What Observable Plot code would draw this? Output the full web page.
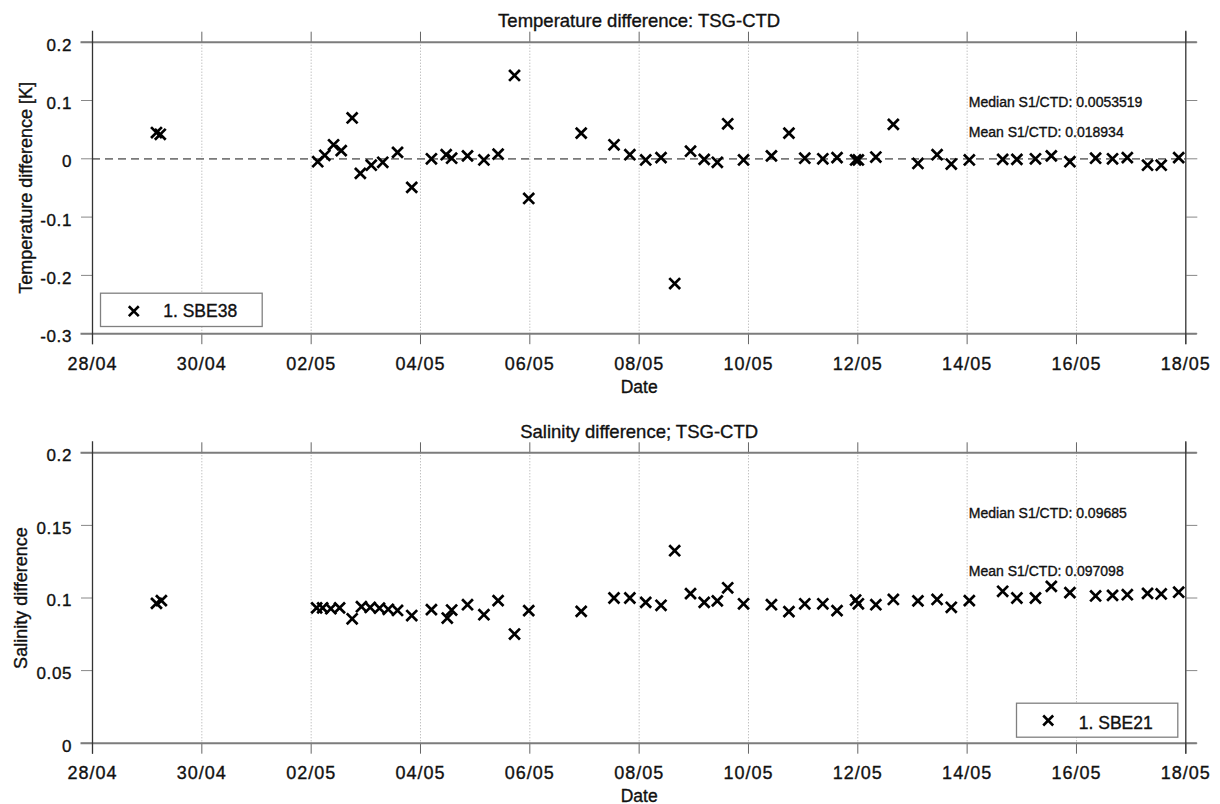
<!DOCTYPE html>
<html><head><meta charset="utf-8">
<script src="https://cdn.jsdelivr.net/npm/d3@7"></script>
<script src="https://cdn.jsdelivr.net/npm/@observablehq/plot@0.6"></script>
<style>
html,body{margin:0;padding:0;background:#fff;}
#chart{width:1220px;}
#chart svg{display:block;}
#chart text{stroke:#111;stroke-width:0.35px;}
g[aria-label="x-axis tick label"] text{letter-spacing:1px;}
g[aria-label="y-axis tick label"] text{letter-spacing:0.6px;}
g[aria-label="title"] text{letter-spacing:1.5px;}
g[aria-label="ylabel"] text{letter-spacing:0.8px;}
g[aria-label="xlabel"] text{letter-spacing:1px;}
g[aria-label="stats"] text{letter-spacing:0.75px;stroke-width:0.25px;}
g[aria-label="legend text"] text{letter-spacing:1.2px;}
</style></head><body><div id="chart"></div>
<script>
// ---- data ----
const YEAR = 2010;
const tickLabels = ["28/04","30/04","02/05","04/05","06/05","08/05","10/05","12/05","14/05","16/05","18/05"];

// days after 28/04 00:00
const tempDays = [1.17,1.24, 4.12,4.25,4.41,4.55,4.75,4.90,5.10,5.31,5.58,5.84,
  6.20,6.47,6.57,6.86,7.16,7.42,7.72,7.98, 8.94,9.54,9.83, 10.12,10.40,10.65,10.94,
  11.19,11.43,11.62,11.91, 12.42,12.74, 13.03,13.36,13.62,13.96, 14.01,14.33,14.65,
  15.10,15.45,15.71, 16.04,16.65,16.91, 17.25,17.54,17.88, 18.35,18.66,18.93, 19.30,19.55,19.87];
const tempValues = [0.045,0.042, -0.005,0.006,0.024,0.014,0.070,-0.025,-0.011,-0.006,0.011,-0.049,
  0.000,0.007,0.001,0.005,-0.002,0.008,0.143,-0.068, 0.044,0.024,0.007, -0.002,0.002,-0.214,0.013,
  -0.001,-0.006,0.060,-0.002, 0.005,0.044, 0.001,0.000,0.002,-0.002, -0.002,0.003,0.059,
  -0.008,0.007,-0.009, -0.002,-0.001,-0.001, 0.000,0.005,-0.005, 0.001,0.000,0.002, -0.011,-0.011,0.002];

const salDays = [1.17,1.26, 4.10,4.21,4.36,4.52,4.75,4.92,5.08,5.25,5.41,5.58,5.84,
  6.20,6.49,6.57,6.86,7.16,7.42,7.72,7.98, 8.94,9.54,9.83, 10.12,10.40,10.65,10.94,
  11.19,11.43,11.62,11.91, 12.42,12.74, 13.03,13.36,13.62,13.96, 14.01,14.33,14.65,
  15.10,15.45,15.71, 16.04,16.65,16.91, 17.25,17.54,17.88, 18.35,18.66,18.93, 19.30,19.55,19.87];
const salValues = [0.0963,0.0982, 0.0932,0.0932,0.0926,0.0932,0.0857,0.0940,0.0935,0.0930,0.0922,0.0914,0.0879,
  0.0920,0.0862,0.0917,0.0954,0.0885,0.0982,0.0752,0.0913, 0.0908,0.1000,0.1000, 0.0970,0.0950,0.1326,0.1030,
  0.0970,0.0980,0.1070,0.0960, 0.0954,0.0906, 0.0960,0.0960,0.0913,0.0986, 0.0960,0.0954,0.0990,
  0.0980,0.0990,0.0936, 0.0982,0.1046,0.1000, 0.1000,0.1080,0.1037, 0.1014,0.1018,0.1023, 0.1032,0.1028,0.1040];

const tempTicks = [0.2,0.1,0,-0.1,-0.2,-0.3];
const salTicks = [0,0.05,0.1,0.15,0.2];
const tempStats = ["Median S1/CTD: 0.0053519","Mean S1/CTD: 0.018934"];
const salStats = ["Median S1/CTD: 0.09685","Mean S1/CTD: 0.097098"];

// ---- helpers ----
const parseDM = s => { const [d,m] = s.split("/").map(Number); return new Date(Date.UTC(YEAR, m-1, d)); };
const tickDates = tickLabels.map(parseDM);
const x0 = tickDates[0], x1 = tickDates[tickDates.length-1];
const innerTicks = tickDates.slice(1,-1);
const toDate = d => new Date(+x0 + d*864e5);
const fmtY = d => String(Math.round(d*100)/100);
const W = 1220, ML = 92, MR = 34.7;

function panel(o) {
  const data = o.days.map((d,i)=>({t: toDate(d), v: o.values[i]}));
  return Plot.plot({
    width: W, height: o.height,
    marginLeft: ML, marginRight: MR, marginTop: o.marginTop, marginBottom: o.marginBottom,
    x: {type: "utc", domain: [x0, x1]},
    y: {domain: o.yDomain},
    style: {fontFamily: '"Liberation Sans", Arial, Helvetica, sans-serif', fontSize: "17px", color: "#111", background: "#fff", overflow: "visible"},
    marks: [
      Plot.gridX(innerTicks, {stroke: "#a8a8a8", strokeOpacity: 1, strokeDasharray: "1,2", strokeWidth: 1}),
      o.zeroLine ? Plot.ruleY([0], {stroke: "#7a7a7a", strokeWidth: 1.8, strokeDasharray: "8,5"}) : null,
      Plot.axisX({anchor: "top", ticks: tickDates, tickSize: 11, fill: "none", stroke: "#666", label: null}),
      Plot.axisX({anchor: "bottom", ticks: tickDates, tickSize: 11, tickPadding: 12.5, tickFormat: d3.utcFormat("%d/%m"), label: null, stroke: "#666", fill: "#111", fontSize: 18}),
      Plot.axisY({anchor: "left", ticks: o.yTicks, tickSize: 11, fill: "none", stroke: "#888", label: null}),
      Plot.axisY({anchor: "left", ticks: o.yTicks, tickSize: 11, tickPadding: 9.5, tickFormat: fmtY, stroke: "none", fill: "#111", fontSize: 17, dy: 3, label: null}),
      Plot.axisY({anchor: "right", ticks: o.yTicks, tickSize: 11, fill: "none", stroke: "#888", label: null}),
      Plot.ruleY([o.yDomain[1], o.yDomain[0]], {stroke: "#7c7c7c", strokeWidth: 2, insetLeft: -11.5, insetRight: -11.5}),
      Plot.ruleX([x0, x1], {stroke: "#333", strokeWidth: 1.3, insetTop: -11, insetBottom: -11}),
      Plot.dot(data, {x: "t", y: "v", symbol: "times", r: 5, stroke: "#000", strokeWidth: 2.7}),
      Plot.frame({fill: "white", stroke: "#808080", strokeWidth: 1.3, ...o.legendInset}),
      Plot.dot([o.legendLabel], {frameAnchor: "top-left", dx: o.legendMarker[0], dy: o.legendMarker[1], symbol: "times", r: 4.6, stroke: "#000", strokeWidth: 2.6}),
      Plot.text([o.legendLabel], {frameAnchor: "top-left", dx: o.legendText[0], dy: o.legendText[1], textAnchor: "start", lineAnchor: "middle", fontSize: 17.5, fill: "#111", ariaLabel: "legend text"}),
      Plot.text([o.stats[0]], {frameAnchor: "top-left", dx: 876.3, dy: o.statsDy[0], textAnchor: "start", lineAnchor: "middle", fontSize: 14, fill: "#111", ariaLabel: "stats"}),
      Plot.text([o.stats[1]], {frameAnchor: "top-left", dx: 876.3, dy: o.statsDy[1], textAnchor: "start", lineAnchor: "middle", fontSize: 14, fill: "#111", ariaLabel: "stats"}),
      Plot.text([o.title], {frameAnchor: "top", dy: -21, lineAnchor: "middle", fontSize: 18.5, fill: "#111", ariaLabel: "title"}),
      Plot.text([o.ylabel], {frameAnchor: "left", dx: o.ylabelX - ML, rotate: -90, lineAnchor: "middle", textAnchor: "middle", fontSize: 18, fill: "#111", ariaLabel: "ylabel"}),
      Plot.text(["Date"], {frameAnchor: "bottom", dy: 53.2, lineAnchor: "middle", fontSize: 17.5, fill: "#111", ariaLabel: "xlabel"})
    ]
  });
}

const topPanel = panel({
  days: tempDays, values: tempValues, yDomain: [-0.3, 0.2], yTicks: tempTicks,
  height: 400, marginTop: 41.7, marginBottom: 66.8,
  title: "Temperature difference: TSG-CTD", ylabel: "Temperature difference [K]", ylabelX: 26,
  zeroLine: true, stats: tempStats, statsDy: [60.3, 90.8],
  legendLabel: "1. SBE38",
  legendInset: {insetLeft: 8, insetRight: 923.6, insetTop: 251, insetBottom: 7.2},
  legendMarker: [41.3, 269], legendText: [70.7, 269.3]
});
const bottomPanel = panel({
  days: salDays, values: salValues, yDomain: [0, 0.2], yTicks: salTicks,
  height: 404, marginTop: 52.3, marginBottom: 61.3,
  title: "Salinity difference; TSG-CTD", ylabel: "Salinity difference", ylabelX: 21,
  zeroLine: false, stats: salStats, statsDy: [61, 118.7],
  legendLabel: "1. SBE21",
  legendInset: {insetLeft: 924, insetRight: 8, insetTop: 250.4, insetBottom: 6},
  legendMarker: [955.7, 267.7], legendText: [986.3, 271]
});
document.getElementById("chart").append(topPanel, bottomPanel);
</script></body></html>
